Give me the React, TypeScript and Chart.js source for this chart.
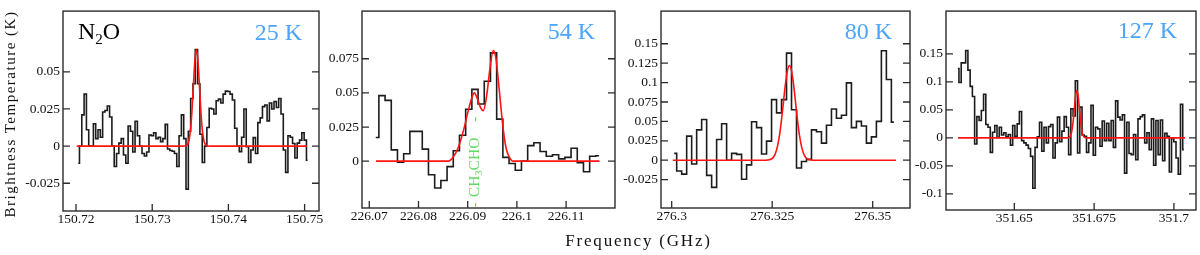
import React, { useEffect, useRef } from "react";
import { Chart, registerables } from "chart.js";

Chart.register(...registerables);

const SERIF = "'Liberation Serif', 'Times New Roman', serif";
const BLUE = "#4ca4fb";
const GREEN = "#63d863";

// ---------------- Panel 1 : N2O, 25 K ----------------
const p1Label = "25 K";
const p1ChannelStart = 150.7203; // GHz, centre of first channel
const p1ChannelWidth = 0.000304; // GHz
const p1Values = [
  -0.0115, 0, 0.021, 0.035, 0.011, 0, 0, 0.015, 0.005, 0.011,
  0.006, 0.023, 0.024, 0.027, 0.0196, 0, -0.0137, -0.005, 0.002, 0.005,
  -0.006, -0.0115, 0.0135, 0.01, -0.004, 0.0167, 0.007, 0, -0.005, -0.0067,
  -0.004, 0.0074, 0.007, 0.009, 0.005, 0.006, 0.003, 0.005, 0.0146, -0.002,
  -0.003, -0.0035, -0.005, -0.0137, 0.007, 0.021, 0.005, -0.029, 0.01, 0.032,
  0.042, 0.065, 0.042, 0.008, -0.011, 0, 0.0125, 0.0255, 0.025, 0.0216,
  0.0305, 0.0316, 0.029, 0.035, 0.037, 0.0368, 0.035, 0.031, 0.012, 0,
  -0.0037, 0.006, 0.025, -0.0004, -0.011, -0.0026, 0.0057, -0.005, 0.0158, 0.019,
  0.0266, 0.0277, 0.017, 0.029, 0.025, 0.03, 0.026, 0.032, 0.0216, -0.0026,
  -0.0177, 0.007, 0.006, 0.0017, -0.008, 0.002, 0.004, 0.009, 0.004, -0.0095,
];
const p1FitFreq = [
  150.7201, 150.734, 150.7344, 150.7346, 150.7348, 150.735, 150.7352, 150.7354, 150.7356,
  150.7358, 150.736, 150.7362, 150.7364, 150.7366, 150.7368, 150.737, 150.7372, 150.7376, 150.7503,
];
const p1FitTemp = [
  0, 0, 0.0002, 0.0009, 0.0033, 0.0097, 0.0223, 0.0404, 0.0577,
  0.065, 0.0577, 0.0404, 0.0223, 0.0097, 0.0033, 0.0009, 0.0002, 0, 0,
];
const p1XTicks = [150.72, 150.73, 150.74, 150.75];
const p1YTicks = [-0.025, 0, 0.025, 0.05];

// ---------------- Panel 2 : 54 K ----------------
const p2Label = "54 K";
const p2ChannelStart = 226.07132;
const p2ChannelWidth = 0.00126;
const p2Values = [
  0.0173, 0.048, 0.0445, 0.0083, -0.0007, 0.0054, 0.0218, 0.0218, 0.0088, -0.01,
  -0.0197, -0.0142, -0.004, 0.0076, 0.019, 0.038, 0.0526, 0.0419, 0.0585, 0.0793,
  0.0308, 0.0028, -0.0017, -0.0066, 0, 0.0114, 0.0135, 0.0071, 0.0036, 0.0047,
  0.0017, 0.0028, 0.0095, -0.0012, -0.0078, 0.0036, 0.004,
];
const p2FitFreq = [
  226.07136, 226.08606, 226.08707, 226.08809, 226.08911, 226.09012, 226.09081, 226.09134,
  226.09195, 226.09264, 226.09317, 226.09386, 226.09453, 226.0952, 226.09575, 226.09642,
  226.09711, 226.09778, 226.09846, 226.09927, 226.1168,
];
const p2FitTemp = [
  0, 0, 0.003, 0.01, 0.022, 0.037, 0.046, 0.05,
  0.046, 0.039, 0.037, 0.048, 0.068, 0.081, 0.075, 0.052,
  0.027, 0.01, 0.003, 0, 0,
];
const p2XTicks = [226.07, 226.08, 226.09, 226.1, 226.11];
const p2YTicks = [0, 0.025, 0.05, 0.075];
const p2LineFreq = 226.0924; // CH3CHO marker

// ---------------- Panel 3 : 80 K ----------------
const p3Label = "80 K";
const p3ChannelStart = 276.30062;
const p3ChannelWidth = 0.001242;
const p3Values = [
  0.0088, -0.014, -0.018, 0.031, -0.005, 0.039, 0.0525, -0.0196, -0.035, 0.0267,
  0.047, 0, 0.0088, 0.0075, -0.0246, -0.006, 0.0496, 0.042, 0.008, 0.0246,
  0.078, 0.061, 0.078, 0.138, 0.065, -0.01, -0.0017, 0.001, 0.039, 0.0367,
  0.022, 0.045, 0.066, 0.054, 0.058, 0.0996, 0.042, 0.05, 0.044, 0.022,
  0.03, 0.05, 0.141, 0.104, 0.049,
];
const p3FitFreq = [
  276.3003, 276.3233, 276.3238, 276.3243, 276.3248, 276.3253, 276.3258, 276.3263, 276.3268,
  276.3273, 276.3278, 276.3283, 276.3288, 276.3293, 276.3298, 276.3303, 276.3308, 276.3313,
  276.3318, 276.3323, 276.3328, 276.3333, 276.3338, 276.3343, 276.3348, 276.3353, 276.3558,
];
const p3FitTemp = [
  0, 0, 0.0002, 0.0005, 0.0015, 0.0038, 0.0086, 0.0174, 0.0315,
  0.0513, 0.0749, 0.0983, 0.1155, 0.122, 0.1155, 0.0983, 0.0749, 0.0513,
  0.0315, 0.0174, 0.0086, 0.0038, 0.0015, 0.0005, 0.0002, 0, 0,
];
const p3XTicks = [276.3, 276.325, 276.35];
const p3YTicks = [-0.025, 0, 0.025, 0.05, 0.075, 0.1, 0.125, 0.15];

// ---------------- Panel 4 : 127 K ----------------
const p4Label = "127 K";
const p4ChannelStart = 351.63231;
const p4ChannelWidth = 0.000701;
const p4Values = [
  0.124, 0.099, 0.134, 0.134, 0.156, 0.121, 0.092, 0.074, -0.011, 0.038,
  0.031, 0.049, 0.078, 0.024, 0.019, -0.026, 0.01, 0.022, 0.0006, 0.019,
  0.005, 0.009, 0.002, 0.006, -0.013, 0.022, 0.003, 0.025, 0.047, -0.005,
  -0.009, -0.013, -0.019, -0.033, -0.09, -0.017, 0.002, 0.028, -0.024, 0.019,
  -0.009, 0.02, 0.024, -0.036, -0.009, 0.037, -0.007, 0.012, 0.038, 0.019,
  -0.03, 0.052, 0.039, 0.102, -0.027, 0.055, 0.005, 0.003, -0.026, -0.009,
  0.058, -0.031, 0.019, 0.016, -0.015, 0.03, -0.005, 0.026, -0.005, 0.031,
  -0.017, 0.066, 0.037, 0.032, 0.041, -0.063, 0.028, -0.028, -0.03, 0.006,
  -0.039, 0.034, 0.038, 0.041, -0.009, 0.009, -0.021, 0.034, -0.049, 0.031,
  -0.03, 0.032, -0.041, 0.008, 0.003, -0.061, -0.001, -0.007, -0.036, -0.065,
  0.06, -0.021,
];
const p4FitFreq = [
  351.63236, 351.6664, 351.6668, 351.6672, 351.6676, 351.668, 351.6684, 351.6688, 351.6692,
  351.6696, 351.67, 351.6704, 351.6708, 351.6712, 351.6716, 351.672, 351.6724, 351.6728, 351.70348,
];
const p4FitTemp = [
  0, 0, 0.0002, 0.0009, 0.0037, 0.0115, 0.0276, 0.0516, 0.075,
  0.085, 0.075, 0.0516, 0.0276, 0.0115, 0.0037, 0.0009, 0.0002, 0, 0,
];
const p4XTicks = [351.65, 351.675, 351.7];
const p4YTicks = [-0.1, -0.05, 0, 0.05, 0.1, 0.15];

// ---------------- Layout (pixels) ----------------
const CANVAS_H = 232;
const Y_AXIS_W = 62;
const TICK_LEN = 7;

const panels = [
  {
    id: "p1", label: p1Label, start: p1ChannelStart, width: p1ChannelWidth, values: p1Values,
    fitFreq: p1FitFreq, fitTemp: p1FitTemp, xTicks: p1XTicks, yTicks: p1YTicks,
    xMin: 150.71829, xMax: 150.75189, yMin: -0.0437, yMax: 0.0909,
    box: { left: 63, top: 4, right: 319, bottom: 211 }, rightPad: 10,
    labelInset: 17, labelBase: 29, molecule: true,
  },
  {
    id: "p2", label: p2Label, start: p2ChannelStart, width: p2ChannelWidth, values: p2Values,
    fitFreq: p2FitFreq, fitTemp: p2FitTemp, xTicks: p2XTicks, yTicks: p2YTicks,
    xMin: 226.06852, xMax: 226.11994, yMin: -0.0343, yMax: 0.1099,
    box: { left: 362, top: 5, right: 615, bottom: 208 }, rightPad: 10,
    labelInset: 20, labelBase: 28, marker: p2LineFreq,
  },
  {
    id: "p3", label: p3Label, start: p3ChannelStart, width: p3ChannelWidth, values: p3Values,
    fitFreq: p3FitFreq, fitTemp: p3FitTemp, xTicks: p3XTicks, yTicks: p3YTicks,
    xMin: 276.29734, xMax: 276.35928, yMin: -0.0616, yMax: 0.1921,
    box: { left: 661, top: 5, right: 910, bottom: 208 }, rightPad: 10,
    labelInset: 18, labelBase: 28,
  },
  {
    id: "p4", label: p4Label, start: p4ChannelStart, width: p4ChannelWidth, values: p4Values,
    fitFreq: p4FitFreq, fitTemp: p4FitTemp, xTicks: p4XTicks, yTicks: p4YTicks,
    xMin: 351.6286, xMax: 351.70692, yMin: -0.1289, yMax: 0.2265,
    box: { left: 946, top: 6, right: 1196, bottom: 210 }, rightPad: 3,
    labelInset: 19, labelBase: 27,
  },
];

function makeDecor(cfg: any) {
  return {
    id: "decor_" + cfg.id,
    afterDatasetsDraw(chart: any) {
      const { ctx, chartArea: a, scales } = chart;
      const xs = scales.x;
      const ys = scales.y;
      ctx.save();
      ctx.strokeStyle = "#2b2b2b";
      ctx.lineWidth = 1.3;
      ctx.beginPath();
      for (const v of cfg.yTicks) {
        const y = ys.getPixelForValue(v);
        ctx.moveTo(a.left, y);
        ctx.lineTo(a.left + TICK_LEN, y);
        ctx.moveTo(a.right, y);
        ctx.lineTo(a.right - TICK_LEN, y);
      }
      for (const v of cfg.xTicks) {
        const x = xs.getPixelForValue(v);
        ctx.moveTo(x, a.bottom);
        ctx.lineTo(x, a.bottom - TICK_LEN);
      }
      ctx.stroke();
      ctx.lineWidth = 1.4;
      ctx.strokeRect(a.left, a.top, a.right - a.left, a.bottom - a.top);

      // temperature label
      ctx.font = `24px ${SERIF}`;
      ctx.fillStyle = BLUE;
      ctx.textAlign = "right";
      ctx.textBaseline = "alphabetic";
      ctx.fillText(cfg.label, a.right - cfg.labelInset, a.top + cfg.labelBase);

      if (cfg.molecule) {
        ctx.fillStyle = "#000";
        ctx.textAlign = "left";
        let x = a.left + 15;
        const base = a.top + 28;
        ctx.font = `24px ${SERIF}`;
        ctx.fillText("N", x, base);
        x += ctx.measureText("N").width;
        ctx.font = `15px ${SERIF}`;
        ctx.fillText("2", x, base + 5);
        x += ctx.measureText("2").width;
        ctx.font = `24px ${SERIF}`;
        ctx.fillText("O", x, base);
      }

      if (cfg.marker !== undefined) {
        const bx = xs.getPixelForValue(cfg.marker);
        const y0 = ys.getPixelForValue(0);
        ctx.translate(bx, y0);
        ctx.rotate(-Math.PI / 2);
        ctx.fillStyle = GREEN;
        ctx.textBaseline = "alphabetic";
        ctx.textAlign = "left";
        let rx = -36;
        ctx.font = `15.5px ${SERIF}`;
        ctx.fillText("CH", rx, 0);
        rx += ctx.measureText("CH").width;
        ctx.font = `10.5px ${SERIF}`;
        ctx.fillText("3", rx, 3);
        rx += ctx.measureText("3").width;
        ctx.font = `15.5px ${SERIF}`;
        ctx.fillText("CHO", rx, 0);
        ctx.textAlign = "center";
        ctx.fillText("-", 42, 0);
        ctx.fillText("-", -44, 0);
      }
      ctx.restore();
    },
  };
}

function Panel({ cfg }: { cfg: any }) {
  const ref = useRef<HTMLCanvasElement | null>(null);
  const canvasLeft = cfg.box.left - Y_AXIS_W;
  const canvasW = cfg.box.right - canvasLeft + cfg.rightPad;

  useEffect(() => {
    if (!ref.current) return;
    const spectrum = cfg.values.map((v: number, i: number) => ({ x: cfg.start + i * cfg.width, y: v }));
    const fit = cfg.fitFreq.map((f: number, i: number) => ({ x: f, y: cfg.fitTemp[i] }));
    const tickFont = { family: SERIF, size: 13.5 };
    const chart = new Chart(ref.current, {
      type: "line",
      data: {
        datasets: [
          {
            data: spectrum,
            borderColor: "#1c1c1c",
            borderWidth: 1.6,
            stepped: "middle",
            pointRadius: 0,
            fill: false,
            order: 2,
          },
          {
            data: fit,
            borderColor: "#ff1414",
            borderWidth: 1.6,
            pointRadius: 0,
            fill: false,
            cubicInterpolationMode: "monotone",
            order: 1,
          },
        ],
      } as any,
      options: {
        animation: false,
        responsive: false,
        devicePixelRatio: 1,
        events: [],
        parsing: false,
        layout: { padding: { top: cfg.box.top, right: cfg.rightPad, left: 0, bottom: 0 } },
        plugins: { legend: { display: false }, tooltip: { enabled: false } },
        scales: {
          x: {
            type: "linear",
            min: cfg.xMin,
            max: cfg.xMax,
            afterBuildTicks: (s: any) => {
              s.ticks = cfg.xTicks.map((v: number) => ({ value: v }));
            },
            afterFit: (s: any) => {
              s.height = CANVAS_H - cfg.box.bottom;
            },
            ticks: {
              callback: (v: any) => String(v),
              font: tickFont,
              color: "#111",
              maxRotation: 0,
              autoSkip: false,
              padding: 0,
            },
            grid: { display: false, drawTicks: false },
            border: { display: false },
          },
          y: {
            type: "linear",
            min: cfg.yMin,
            max: cfg.yMax,
            afterBuildTicks: (s: any) => {
              s.ticks = cfg.yTicks.map((v: number) => ({ value: v }));
            },
            afterFit: (s: any) => {
              s.width = Y_AXIS_W;
            },
            ticks: {
              callback: (v: any) => String(v),
              font: tickFont,
              color: "#111",
              autoSkip: false,
              padding: 3,
            },
            grid: { display: false, drawTicks: false },
            border: { display: false },
          },
        },
      } as any,
      plugins: [makeDecor(cfg)],
    });
    return () => chart.destroy();
  }, [cfg]);

  return (
    <canvas
      ref={ref}
      width={canvasW}
      height={CANVAS_H}
      style={{ position: "absolute", left: canvasLeft, top: 0, width: canvasW, height: CANVAS_H }}
    />
  );
}

export default function App() {
  return (
    <div
      style={{
        position: "absolute",
        left: 0,
        top: 0,
        width: 1200,
        height: 255,
        overflow: "hidden",
        background: "#fff",
        fontFamily: SERIF,
      }}
    >
      {panels.map((p) => (
        <Panel key={p.id} cfg={p} />
      ))}
      <div
        style={{
          position: "absolute",
          left: 9.5 - 130,
          top: 114 - 9,
          width: 260,
          height: 18,
          lineHeight: "18px",
          fontSize: 15,
          letterSpacing: "1.5px",
          textAlign: "center",
          color: "#111",
          transform: "rotate(-90deg)",
          whiteSpace: "nowrap",
        }}
      >
        Brightness Temperature (K)
      </div>
      <div
        style={{
          position: "absolute",
          left: 538.5,
          top: 231,
          width: 200,
          height: 20,
          lineHeight: "20px",
          fontSize: 17,
          letterSpacing: "1.8px",
          textAlign: "center",
          color: "#111",
          whiteSpace: "nowrap",
        }}
      >
        Frequency (GHz)
      </div>
    </div>
  );
}
